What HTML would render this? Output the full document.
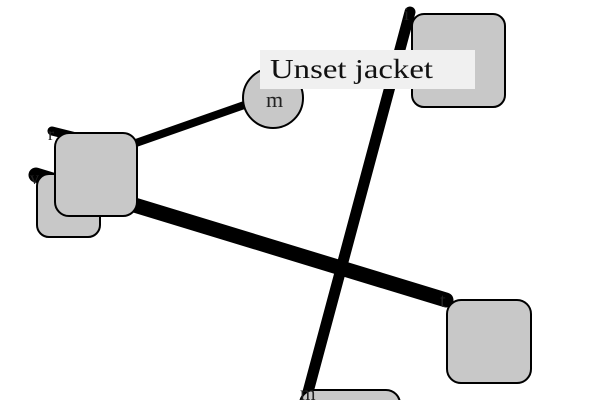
<!DOCTYPE html>
<html><head><style>html,body{margin:0;background:#fff;overflow:hidden;width:600px;height:400px}svg{display:block}</style></head><body>
<svg width="600" height="400" viewBox="0 0 600 400" xmlns="http://www.w3.org/2000/svg">
<g stroke="#000" stroke-linecap="round" fill="none">
<line x1="52" y1="131" x2="80" y2="138" stroke-width="9"/>
<line x1="96" y1="157" x2="250" y2="103" stroke-width="8"/>
<line x1="36" y1="175" x2="446" y2="300" stroke-width="15"/>
<line x1="410" y1="12" x2="308" y2="392" stroke-width="11"/>
</g>
<g fill="#c8c8c8" stroke="#000" stroke-width="2">
<rect x="37" y="174" width="63" height="63" rx="12"/>
<rect x="55" y="133" width="82" height="83" rx="14"/>
<circle cx="273" cy="98" r="30"/>
<rect x="412" y="14" width="93" height="93" rx="12"/>
<rect x="447" y="300" width="84" height="83" rx="14"/>
<rect x="300" y="390" width="100" height="60" rx="14"/>
</g>
<g font-family="Liberation Serif, serif" fill="#222">
<text x="266" y="107" font-size="22" textLength="22">m</text>
<text x="440" y="307" font-size="20">t</text>
<text x="300" y="400" font-size="20">m</text>
<text x="404" y="20" font-size="18">i</text>
<text x="48" y="140" font-size="18">r</text>
<text x="30" y="184" font-size="18">v</text>
</g>
<rect x="260" y="50" width="215" height="39" fill="#f0f0f0"/>
<text x="270" y="78" font-family="Liberation Serif, serif" font-size="27" fill="#111" textLength="163" lengthAdjust="spacingAndGlyphs">Unset jacket</text>
</svg>
</body></html>
